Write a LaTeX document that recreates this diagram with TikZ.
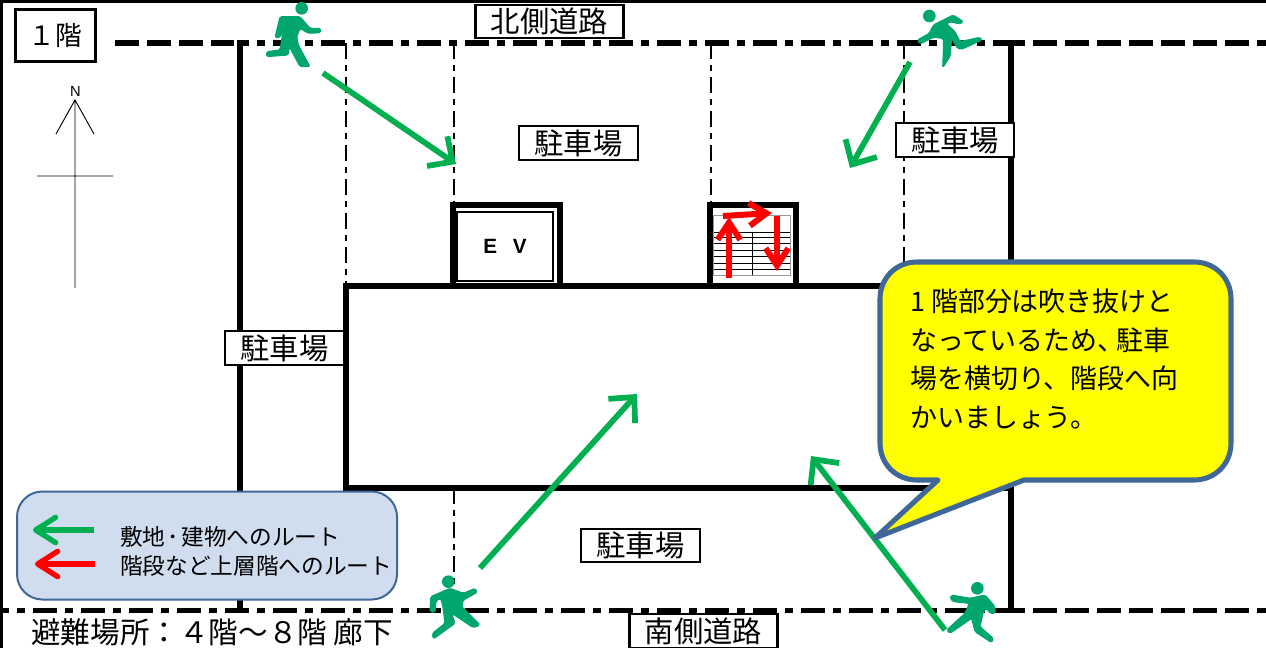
\documentclass[tikz,border=0pt]{standalone}
\usepackage{fontspec}
\setmainfont{Noto Sans CJK JP}
\newfontfamily\latinfont{Liberation Sans}
\usetikzlibrary{arrows.meta, positioning}
\definecolor{routeGreen}{RGB}{0,176,80}
\definecolor{runGreen}{RGB}{0,166,110}
\definecolor{routeRed}{RGB}{255,0,0}
\definecolor{calloutBlue}{RGB}{63,103,151}
\definecolor{legendBlue}{RGB}{208,221,238}
\definecolor{noteYellow}{RGB}{255,255,0}
\definecolor{stairGray}{gray}{0.6}
\tikzset{
  wallline/.style={line width=4.3pt},
  roadline/.style={line width=4.3pt, dash pattern=on 18pt off 6pt},
  roadmix/.style={line width=4.3pt, dash pattern=on 18pt off 6pt on 6pt off 6pt},
  parkline/.style={line width=2.2pt, dash pattern=on 12pt off 4.5pt on 4.5pt off 4.5pt},
  labelbox/.style={draw, fill=white, line width=1.7pt, minimum height=25pt, inner sep=0pt, font=\fontsize{22}{24}\selectfont},
  route/.style={line width=4.3pt, routeGreen, -{Straight Barb[length=14pt,width=27pt,line width=4.3pt]}},
  keyarrow/.style={line width=4pt, -{Straight Barb[length=15pt,width=19pt,line width=4pt,round]}},
  stairarrow/.style={line width=4.5pt, routeRed, -{Straight Barb[length=13pt,width=17pt,line width=4.5pt]}},
  runbody/.style={fill=runGreen, draw=runGreen, line width=0.8pt, rounded corners=1.2pt},
  runhead/.style={circle, fill=runGreen, minimum size=9.5pt, inner sep=0pt}
}
\begin{document}
\begin{tikzpicture}[x=0.75pt, y=-0.75pt]
  \useasboundingbox (0,0) rectangle (1266,648);
  % frame
  \draw[line width=2.4pt] (1,648) -- (1,1) -- (1266,1);
  % parking bays
  \foreach \bx/\by/\ey in {346/43/286, 454/43/205, 711/43/205, 904/43/286, 454/488/610} {
    \draw[parkline] (\bx,\by) -- (\bx,\ey);
  }
  % walls and roads
  \draw[wallline] (240,43) -- (240,610);
  \draw[wallline] (1011,43) -- (1011,610);
  \draw[roadline] (115,43) -- (234,43);
  \draw[roadmix, dash phase=9pt] (237,43) -- (1001,43);
  \draw[roadline] (1001,43) -- (1266,43);
  \draw[roadmix] (-15,610.5) -- (1001,610.5);
  \draw[roadline] (1001,610.5) -- (1266,610.5);
  \draw[wallline] (346,286) rectangle (1011,488);
  % elevator
  \draw[wallline] (453,286) -- (453,205) -- (560,205) -- (560,286);
  \node[draw, line width=1.5pt, minimum width=72pt, minimum height=52pt, inner sep=0pt,
    font=\latinfont\bfseries\fontsize{15.5}{17}\selectfont] (ev) at (505,246.5) {E\hspace{0.75em}V};
  % stairs
  \draw[wallline] (710,286) -- (710,205) -- (796,205) -- (796,286);
  \foreach \sy in {232,237,243,250,256,263,269} {
    \draw[line width=0.7pt] (713,\sy) -- (790,\sy);
  }
  \draw[line width=0.7pt] (752,232) -- (752,275);
  \draw[stairGray, line width=0.7pt] (713,215) rectangle (790,275);
  \coordinate (upA) at (729,278);
  \coordinate (upB) at (729,217);
  \coordinate (acA) at (723,216);
  \coordinate (acB) at (772,213);
  \coordinate (dnA) at (777,216);
  \coordinate (dnB) at (777,271);
  \draw[stairarrow] (upA) -- (upB);
  \draw[stairarrow] (acA) -- (acB);
  \draw[stairarrow] (dnA) -- (dnB);
  % labels
  \node[labelbox, minimum width=111pt] (north) at (549.5,21.5) {北側道路};
  \node[labelbox, minimum width=89pt] (parkN) at (578.5,143) {駐車場};
  \node[labelbox, minimum width=89pt] (parkE) at (955,140) {駐車場};
  \node[labelbox, minimum width=89pt] (parkW) at (284.5,348) {駐車場};
  \node[labelbox, minimum width=89pt] (parkS) at (640.5,545.5) {駐車場};
  \node[labelbox, minimum width=111pt] (south) at (703.5,631) {南側道路};
  \node[draw, fill=white, line width=1.7pt, minimum width=60pt, minimum height=39pt, inner sep=0pt,
    font=\fontsize{20}{22}\selectfont] (floor) at (55.5,35.5) {１階};
  \node[anchor=west, inner sep=0pt, font=\fontsize{22.2}{24}\selectfont] (shelter) at (31,632)
    {避難場所：４階～８階 廊下};
  % north mark
  \node[inner sep=0pt, font=\latinfont\fontsize{11}{12}\selectfont] (nmark) at (75.5,91) {N};
  \coordinate (nTop) at (75,100);
  \coordinate (nEnd) at (75,288);
  \coordinate (nL) at (56,134);
  \coordinate (nR) at (94,134);
  \coordinate (eW) at (37,176);
  \coordinate (eE) at (113,176);
  \draw[line width=0.7pt] (nEnd) -- (nTop) (nL) -- (nTop) -- (nR) (eW) -- (eE);
  % legend
  \node[draw=calloutBlue, fill=legendBlue, line width=1.5pt, rounded corners=19pt,
    minimum width=285pt, minimum height=81pt, inner sep=0pt] (legend) at (207,545.5) {};
  \node[anchor=west, inner sep=0pt, font=\fontsize{17}{20}\selectfont] (keyG) at (120,537)
    {敷地\hspace{0.1em}･\hspace{0.1em}建物へのルート};
  \node[anchor=west, inner sep=0pt, font=\fontsize{17}{20}\selectfont] (keyR) at (120,566) {階段など上層階へのルート};
  \coordinate (gA) at (94,530);
  \coordinate (gB) at (33,530);
  \coordinate (rA) at (95,564);
  \coordinate (rB) at (35,564);
  \draw[keyarrow, routeGreen] (gA) -- (gB);
  \draw[keyarrow, routeRed] (rA) -- (rB);
  % routes
  \coordinate (runA) at (323,73);
  \coordinate (runB) at (910,62);
  \coordinate (runC) at (480,568);
  \coordinate (runD) at (945,630);
  \coordinate (goalA) at (456,164);
  \coordinate (goalB) at (850,168);
  \coordinate (goalC) at (637,394);
  \coordinate (goalD) at (811,456);
  \draw[route] (runA) -- (goalA);
  \draw[route] (runB) -- (goalB);
  \draw[route] (runC) -- (goalC);
  \draw[route] (runD) -- (goalD);
  % callout
  \draw[calloutBlue, fill=noteYellow, line width=3.8pt, line join=round]
    (917,262) -- (1194,262) .. controls (1215,262) and (1231,278) .. (1231,299)
    -- (1231,443) .. controls (1231,464) and (1215,480) .. (1194,480)
    -- (1024,480) -- (875,538) -- (938,480) -- (917,480)
    .. controls (896,480) and (880,464) .. (880,443) -- (880,299)
    .. controls (880,278) and (896,262) .. (917,262) -- cycle;
  \node[anchor=north west, inner sep=0pt, align=left, font=\fontsize{20.2}{28.8}\selectfont] (note) at (910,289)
    {1\hspace{0.22em}階部分は吹き抜けと\\なっているため、\hspace{-0.3em}駐車\\場を横切り、階段へ向\\かいましょう。};
  % runners
  \begin{scope}[shift={(250,0)}, x=0.25pt, y=-0.25pt]
    \node[runhead] (headA) at (155,25) {};
    \path[runbody] (75,113) -- (90,50) -- (150,50) -- (180,85) -- (212,85) -- (212,98)
      -- (175,100) -- (150,85) -- (140,110) -- (145,135) -- (180,200) -- (150,200)
      -- (118,140) -- (115,165) -- (50,170) -- (50,155) -- (90,150) -- (95,120)
      -- (100,75) -- (90,113) -- cycle;
  \end{scope}
  \begin{scope}[shift={(900,0)}, x=0.25pt, y=-0.25pt]
    \node[runhead] (headB) at (88,48) {};
    \path[runbody] (100,75) -- (160,45) -- (190,65) -- (180,72) -- (150,65) -- (140,72)
      -- (165,95) -- (180,125) -- (240,112) -- (245,120) -- (185,148) -- (172,145)
      -- (155,115) -- (150,170) -- (128,203) -- (130,150) -- (130,115) -- (100,112)
      -- (60,132) -- (52,120) -- (88,100) -- cycle;
  \end{scope}
  \begin{scope}[shift={(420,565)}, x=0.25pt, y=-0.25pt]
    \node[runhead] (headC) at (85,50) {};
    \path[runbody] (30,140) -- (32,95) -- (90,70) -- (130,85) -- (165,70) -- (172,82)
      -- (130,105) -- (125,125) -- (180,180) -- (160,188) -- (95,145) -- (105,175)
      -- (40,222) -- (37,205) -- (75,175) -- (68,120) -- (62,100) -- (48,108)
      -- (45,142) -- cycle;
  \end{scope}
  \begin{scope}[shift={(930,570)}, x=0.25pt, y=-0.25pt]
    \node[runhead] (headD) at (142,55) {};
    \path[runbody] (60,85) -- (65,75) -- (120,85) -- (165,75) -- (195,110) -- (195,130)
      -- (180,130) -- (170,115) -- (160,125) -- (150,170) -- (190,205) -- (185,218)
      -- (135,185) -- (125,145) -- (60,190) -- (50,180) -- (105,130) -- (118,100)
      -- (70,95) -- cycle;
  \end{scope}
\end{tikzpicture}
\end{document}
